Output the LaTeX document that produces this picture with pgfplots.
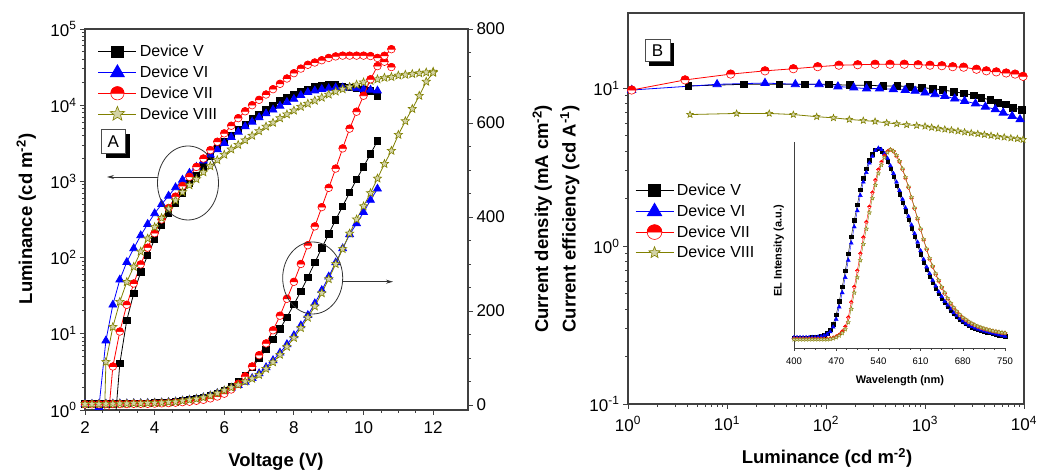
\documentclass[border=0pt]{standalone}
\usepackage{fontspec}
\setmainfont{Liberation Sans}
\usepackage{pgfplots}
\pgfplotsset{compat=1.18}
\usetikzlibrary{arrows.meta}
\definecolor{olv}{RGB}{128,128,0}

\pgfdeclareplotmark{halfcirc}{%
  \pgfpathcircle{\pgfpointorigin}{\pgfplotmarksize}%
  \pgfsetfillcolor{white}%
  \pgfusepathqfillstroke
  \pgfpathmoveto{\pgfqpoint{\pgfplotmarksize}{0pt}}%
  \pgfpatharc{0}{180}{\pgfplotmarksize}%
  \pgfpathclose
  \pgfsetfillcolor{red}%
  \pgfusepathqfillstroke
}
\pgfdeclareplotmark{fstar}{%
  \pgfpathmoveto{\pgfpointpolar{90}{1.15\pgfplotmarksize}}%
  \pgfpathlineto{\pgfpointpolar{126}{0.5\pgfplotmarksize}}%
  \pgfpathlineto{\pgfpointpolar{162}{1.15\pgfplotmarksize}}%
  \pgfpathlineto{\pgfpointpolar{198}{0.5\pgfplotmarksize}}%
  \pgfpathlineto{\pgfpointpolar{234}{1.15\pgfplotmarksize}}%
  \pgfpathlineto{\pgfpointpolar{270}{0.5\pgfplotmarksize}}%
  \pgfpathlineto{\pgfpointpolar{306}{1.15\pgfplotmarksize}}%
  \pgfpathlineto{\pgfpointpolar{342}{0.5\pgfplotmarksize}}%
  \pgfpathlineto{\pgfpointpolar{18}{1.15\pgfplotmarksize}}%
  \pgfpathlineto{\pgfpointpolar{54}{0.5\pgfplotmarksize}}%
  \pgfpathclose
  \pgfusepathqfillstroke
}

\pgfplotsset{
  myaxis/.style={
    scale only axis, anchor=south west,
    tick align=outside,
    major tick length=5pt, minor tick length=3pt,
    axis line style={line width=1.1pt, black!75},
    every tick/.style={line width=0.9pt, black!75},
    tick label style={font=\fontsize{17}{17}\selectfont, text=black},
  },
  myleg/.style={
    legend cell align=left,
    legend style={draw=none, fill=none, inner sep=0pt, outer sep=0pt,
      font=\fontsize{16}{16}\selectfont, row sep=5.5pt, nodes={inner sep=1pt},
      /tikz/every odd column/.append style={column sep=2pt}},
    legend image code/.code={%
      \draw[##1] (0pt,0pt) -- (38pt,0pt);
      \draw[##1, every mark/.append style={scale=1.75}] plot coordinates {(19pt,0pt)};}
  },
  sV/.style={black, line width=0.8pt, mark=square*, mark size=3.2},
  sVI/.style={blue, line width=0.8pt, mark=triangle*, mark size=4.5},
  sVII/.style={red, line width=0.8pt, mark=halfcirc, mark size=3.8, mark options={line width=0.6pt}},
  sVIII/.style={olv, line width=0.8pt, mark=fstar, mark size=3.8, mark options={fill=olv!35, line width=0.6pt}},
}

\begin{document}
\begin{tikzpicture}
\path[use as bounding box] (0pt,0pt) rectangle (1037pt,470pt);

% ---------------- Panel A: luminance ----------------
\begin{axis}[myaxis, myleg,
  at={(85pt,60pt)}, width=383pt, height=381pt,
  xmin=2, xmax=13, ymode=log, ymin=1, ymax=1e5,
  xtick={2,4,6,8,10,12}, xticklabels={2,4,6,8,10,12}, minor x tick num=3,
  ytick={1,10,100,1000,10000,100000},
  yticklabels={10\textsuperscript{0},10\textsuperscript{1},10\textsuperscript{2},10\textsuperscript{3},10\textsuperscript{4},10\textsuperscript{5}},
  xtick pos=left, ytick pos=left,
  xticklabel style={yshift=-3pt},
  legend style={at={(0.034,0.960)}, anchor=north west},
]
\addplot[sV] coordinates {(3.0,4.07)(3.2,15.1)(3.4,33.9)(3.6,64.6)(3.8,107)(4.0,174)(4.2,263)(4.4,380)(4.6,525)(4.8,708)(5.0,933)(5.2,1202)(5.4,1549)(5.6,2138)(5.8,2692)(6.0,3311)(6.2,3981)(6.4,4786)(6.6,5623)(6.8,6607)(7.0,7586)(7.2,8710)(7.4,10000)(7.6,11482)(7.8,12589)(8.0,13804)(8.2,15136)(8.4,16218)(8.6,17378)(8.8,18197)(9.0,18621)(9.2,18621)(9.4,17783)(9.6,16982)(9.8,16596)(10.0,16218)(10.2,15488)(10.4,13183)};
\addlegendentry{Device V}
\addplot[sVI] coordinates {(2.4,1.09)(2.6,8.13)(2.8,24.0)(3.0,51.3)(3.2,87.1)(3.4,132)(3.6,195)(3.8,275)(4.0,380)(4.2,501)(4.4,646)(4.6,832)(4.8,1047)(5.0,1288)(5.2,1549)(5.4,1862)(5.6,2239)(5.8,2630)(6.0,3162)(6.2,3802)(6.4,4467)(6.6,5248)(6.8,6026)(7.0,6918)(7.2,7762)(7.4,8710)(7.6,9772)(7.8,10965)(8.0,12023)(8.2,13490)(8.4,14791)(8.6,15488)(8.8,16218)(9.0,16596)(9.2,16982)(9.4,16982)(9.6,16982)(9.8,16596)(10.0,16218)(10.2,15849)(10.4,15488)};
\addlegendentry{Device VI}
\addplot[sVII] coordinates {(2.8,3.72)(3.0,10.7)(3.2,24.0)(3.4,45.7)(3.6,81.3)(3.8,135)(4.0,209)(4.2,316)(4.4,447)(4.6,631)(4.8,871)(5.0,1148)(5.2,1549)(5.4,1995)(5.6,2570)(5.8,3311)(6.0,4266)(6.2,5370)(6.4,6761)(6.6,8318)(6.8,10000)(7.0,11749)(7.2,13804)(7.4,16218)(7.6,19055)(7.8,22387)(8.0,26303)(8.2,30200)(8.4,33884)(8.6,36308)(8.8,38905)(9.0,41687)(9.2,43652)(9.4,44668)(9.6,44668)(9.8,44668)(10.0,44668)(10.2,44157)(10.4,41687)(10.6,37154)(10.8,31623)};
\addlegendentry{Device VII}
\addplot[sVIII] coordinates {(2.6,4.27)(2.8,12.3)(3.0,26.3)(3.2,47.9)(3.4,75.9)(3.6,120)(3.8,178)(4.0,251)(4.2,331)(4.4,437)(4.6,562)(4.8,724)(5.0,891)(5.2,1072)(5.4,1318)(5.6,1585)(5.8,1905)(6.0,2239)(6.2,2630)(6.4,3020)(6.6,3467)(6.8,3981)(7.0,4571)(7.2,5248)(7.4,5888)(7.6,6761)(7.8,7586)(8.0,8511)(8.2,9550)(8.4,10471)(8.6,11482)(8.8,12589)(9.0,13804)(9.2,15136)(9.4,16218)(9.6,17378)(9.8,18621)(10.0,19953)(10.2,20893)(10.4,21878)(10.6,22909)(10.8,23442)(11.0,24547)(11.2,25119)(11.4,25704)(11.6,26303)(11.8,26915)(12.0,27542)};
\addlegendentry{Device VIII}
% lines from sub-unity luminance (below the axis)
\addplot[black, line width=0.8pt, forget plot] coordinates {(2.8,0.3)(3.0,4.07)};
\addplot[blue, line width=0.8pt, forget plot] coordinates {(2.2,0.001)(2.4,1.09)};
\addplot[red, line width=0.8pt, forget plot] coordinates {(2.6,0.35)(2.8,3.72)};
\addplot[olv, line width=0.8pt, forget plot] coordinates {(2.4,0.001)(2.6,4.27)};
\end{axis}

% ---------------- Panel A: current density ----------------
\begin{axis}[myaxis,
  at={(85pt,60pt)}, width=383pt, height=381pt,
  xmin=2, xmax=13, ymin=-10.6, ymax=800,
  axis x line=none, axis y line*=right, axis line style={-},
  ytick={0,200,400,600,800}, yticklabels={0,200,400,600,800}, minor y tick num=3,
]
\addplot[sV] coordinates {(2.0,2)(2.2,2)(2.4,2)(2.6,2.5)(2.8,2.5)(3.0,3)(3.2,3)(3.4,3.5)(3.6,3.5)(3.8,4)(4.0,4.5)(4.2,5)(4.4,6)(4.6,7)(4.8,9)(5.0,11)(5.2,13)(5.4,16)(5.6,20)(5.8,25)(6.0,31)(6.2,39)(6.4,49)(6.6,63)(6.8,80)(7.0,99)(7.2,118)(7.4,140)(7.6,162)(7.8,187)(8.0,214)(8.2,242)(8.4,272)(8.6,303)(8.8,334)(9.0,364)(9.2,394)(9.4,423)(9.6,452)(9.8,480)(10.0,507)(10.2,534)(10.4,562)};
\addplot[sVI] coordinates {(2.0,2)(2.2,2)(2.4,2)(2.6,2.5)(2.8,2.5)(3.0,3)(3.2,3)(3.4,3.5)(3.6,3.5)(3.8,4)(4.0,4.5)(4.2,5)(4.4,6)(4.6,7)(4.8,9)(5.0,11)(5.2,13)(5.4,16)(5.6,20)(5.8,25)(6.0,30)(6.2,36)(6.4,42)(6.6,49)(6.8,57)(7.0,67)(7.2,80)(7.4,95)(7.6,111)(7.8,129)(8.0,148)(8.2,169)(8.4,191)(8.6,216)(8.8,244)(9.0,273)(9.2,303)(9.4,333)(9.6,363)(9.8,386)(10.0,410)(10.2,436)(10.4,460)};
\addplot[sVII] coordinates {(2.0,1.5)(2.2,1.5)(2.4,1.5)(2.6,2)(2.8,2)(3.0,2)(3.2,2)(3.4,2.5)(3.6,2.5)(3.8,2.5)(4.0,3)(4.2,3.5)(4.4,4)(4.6,5)(4.8,6)(5.0,7)(5.2,9)(5.4,11)(5.6,14)(5.8,18)(6.0,24)(6.2,33)(6.4,45)(6.6,61)(6.8,82)(7.0,106)(7.2,131)(7.4,159)(7.6,190)(7.8,226)(8.0,262)(8.2,300)(8.4,340)(8.6,380)(8.8,421)(9.0,462)(9.2,503)(9.4,546)(9.6,588)(9.8,624)(10.0,658)(10.2,693)(10.4,721)(10.6,743)(10.8,757)};
\addplot[sVIII] coordinates {(2.0,2)(2.2,2)(2.4,2)(2.6,2.5)(2.8,2.5)(3.0,3)(3.2,3)(3.4,3.5)(3.6,3.5)(3.8,4)(4.0,4.5)(4.2,5)(4.4,6)(4.6,7)(4.8,9)(5.0,11)(5.2,13)(5.4,16)(5.6,20)(5.8,25)(6.0,31)(6.2,37)(6.4,43)(6.6,50)(6.8,56)(7.0,64)(7.2,77)(7.4,91)(7.6,107)(7.8,124)(8.0,143)(8.2,164)(8.4,186)(8.6,210)(8.8,238)(9.0,268)(9.2,300)(9.4,332)(9.6,365)(9.8,395)(10.0,423)(10.2,451)(10.4,482)(10.6,513)(10.8,541)(11.0,575)(11.2,604)(11.4,630)(11.6,658)(11.8,688)(12.0,707)};
\end{axis}

% ---------------- Panel B: current efficiency ----------------
\begin{axis}[myaxis, myleg,
  at={(628pt,66pt)}, width=396pt, height=391pt,
  xmode=log, ymode=log, xmin=1, xmax=1e4, ymin=0.1, ymax=30,
  xtick={1,10,100,1000,10000},
  xticklabels={10\textsuperscript{0},10\textsuperscript{1},10\textsuperscript{2},10\textsuperscript{3},10\textsuperscript{4}},
  ytick={0.1,1,10},
  yticklabels={10\textsuperscript{-1},10\textsuperscript{0},10\textsuperscript{1}},
  xtick pos=left, ytick pos=left,
  xticklabel style={yshift=-4pt},
  legend style={at={(0.018,0.566)}, anchor=north west},
  sV/.append style={mark size=3.4},
  sVI/.append style={mark size=4.7},
  sVII/.append style={mark size=4.2},
  sVIII/.append style={mark size=3.0},
]
\addplot[sV] coordinates {(4.07,10.35)(14.8,10.6)(33.9,10.6)(61.7,10.6)(107,10.6)(174,10.45)(263,10.45)(380,10.35)(525,10.35)(708,10.26)(933,10.1)(1202,9.95)(1514,9.75)(1950,9.53)(2455,9.29)(3090,9.02)(3715,8.73)(4571,8.43)(5495,8.11)(6607,7.91)(7762,7.53)(9550,7.28)};
\addlegendentry{Device V}
\addplot[sVI] coordinates {(1.09,9.75)(7.94,10.6)(24.2,10.8)(49.0,10.6)(85.1,10.6)(132,10.26)(191,10.1)(257,9.95)(347,9.95)(479,9.86)(631,9.75)(794,9.62)(1000,9.38)(1259,9.16)(1585,8.93)(1995,8.59)(2512,8.30)(3236,8.0)(4074,7.64)(5129,7.35)(6166,7.0)(7586,6.67)(9120,6.35)};
\addlegendentry{Device VI}
\addplot[sVII] coordinates {(1.09,9.75)(3.77,11.3)(10.9,12.3)(24.2,12.9)(46.8,13.3)(82.4,13.7)(135,14.0)(209,14.1)(313,14.2)(443,14.2)(617,14.2)(851,14.1)(1122,14.0)(1479,13.9)(1905,13.7)(2455,13.6)(3311,13.2)(4169,12.9)(5248,12.7)(6607,12.5)(8128,12.3)(9772,11.9)};
\addlegendentry{Device VII}
\addplot[sVIII] coordinates {(4.23,6.82)(12.5,6.93)(26.7,6.93)(46.8,6.82)(80.5,6.61)(119,6.50)(172,6.35)(238,6.25)(313,6.17)(410,6.04)(518,5.96)(653,5.87)(824,5.81)(1000,5.75)(1167,5.65)(1358,5.57)(1585,5.50)(1849,5.43)(2153,5.36)(2512,5.28)(2931,5.21)(3412,5.15)(3981,5.09)(4645,5.02)(5408,4.95)(6310,4.90)(7362,4.84)(8570,4.79)(9772,4.73)};
\addlegendentry{Device VIII}
\addplot[black, line width=0.8pt, forget plot] coordinates {(9550,7.28)(11500,7.0)};
\addplot[blue, line width=0.8pt, forget plot] coordinates {(9120,6.35)(11000,6.1)};
\addplot[red, line width=0.8pt, forget plot] coordinates {(9772,11.9)(11749,11.6)};
\addplot[olv, line width=0.8pt, forget plot] coordinates {(9772,4.73)(11500,4.65)};
\end{axis}

% ---------------- Inset: EL spectra ----------------
\begin{axis}[myaxis,
  at={(794pt,122pt)}, width=211pt, height=206pt,
  xmin=400, xmax=750, ymin=-0.05, ymax=1.03,
  axis x line*=bottom, axis y line*=left, axis line style={-, line width=0.8pt},
  every tick/.style={line width=0.6pt, black!75},
  major tick length=3pt, minor tick length=2pt,
  xtick={400,470,540,610,680,750}, xticklabels={400,470,540,610,680,750},
  minor x tick num=3, ytick=\empty,
  tick label style={font=\fontsize{9.5}{9.5}\selectfont},
  xticklabel style={yshift=-3pt},
  sV/.append style={mark size=1.7, line width=0.4pt},
  sVI/.append style={mark size=2.3, line width=0.4pt},
  sVII/.append style={mark size=1.9, line width=0.4pt, mark options={line width=0.3pt}},
  sVIII/.append style={mark size=2.0, line width=0.4pt, mark options={fill=olv!35, line width=0.3pt}},
]
\addplot[sV] coordinates {(400,0.005)(405,0.005)(410,0.005)(415,0.005)(420,0.005)(425,0.005)(430,0.006)(435,0.007)(440,0.009)(445,0.013)(450,0.018)(455,0.027)(460,0.045)(465,0.075)(470,0.125)(475,0.195)(480,0.27)(485,0.355)(490,0.445)(495,0.535)(500,0.62)(505,0.70)(510,0.78)(515,0.84)(520,0.89)(525,0.935)(530,0.967)(535,0.99)(540,0.995)(545,0.982)(550,0.96)(555,0.93)(560,0.89)(565,0.848)(570,0.802)(575,0.757)(580,0.712)(585,0.667)(590,0.622)(595,0.577)(600,0.532)(605,0.487)(610,0.442)(615,0.399)(620,0.361)(625,0.326)(630,0.293)(635,0.263)(640,0.235)(645,0.21)(650,0.187)(655,0.167)(660,0.147)(665,0.129)(670,0.114)(675,0.1)(680,0.087)(685,0.076)(690,0.067)(695,0.059)(700,0.053)(705,0.047)(710,0.042)(715,0.037)(720,0.033)(725,0.029)(730,0.025)(735,0.021)(740,0.017)(745,0.014)(750,0.011)};
\addplot[sVI] coordinates {(400,0.005)(405,0.005)(410,0.005)(415,0.005)(420,0.005)(425,0.005)(430,0.006)(435,0.006)(440,0.008)(445,0.010)(450,0.015)(455,0.022)(460,0.035)(465,0.06)(470,0.10)(475,0.165)(480,0.24)(485,0.32)(490,0.41)(495,0.50)(500,0.585)(505,0.67)(510,0.75)(515,0.82)(520,0.87)(525,0.92)(530,0.955)(535,0.985)(540,0.998)(545,0.99)(550,0.97)(555,0.945)(560,0.905)(565,0.865)(570,0.82)(575,0.775)(580,0.73)(585,0.685)(590,0.64)(595,0.595)(600,0.55)(605,0.505)(610,0.46)(615,0.415)(620,0.375)(625,0.34)(630,0.305)(635,0.275)(640,0.245)(645,0.22)(650,0.195)(655,0.175)(660,0.155)(665,0.135)(670,0.12)(675,0.105)(680,0.092)(685,0.08)(690,0.07)(695,0.062)(700,0.055)(705,0.049)(710,0.044)(715,0.039)(720,0.035)(725,0.031)(730,0.027)(735,0.023)(740,0.019)(745,0.015)(750,0.012)};
\addplot[sVII] coordinates {(400,-0.002)(405,-0.002)(410,-0.002)(415,-0.002)(420,-0.002)(425,-0.002)(430,-0.002)(435,-0.002)(440,-0.002)(445,-0.002)(450,-0.002)(455,-0.002)(460,0.0)(465,0.004)(470,0.01)(475,0.02)(480,0.036)(485,0.062)(490,0.11)(495,0.19)(500,0.27)(505,0.355)(510,0.445)(515,0.53)(520,0.61)(525,0.69)(530,0.765)(535,0.83)(540,0.885)(545,0.925)(550,0.958)(555,0.98)(560,0.99)(565,0.98)(570,0.955)(575,0.925)(580,0.885)(585,0.84)(590,0.79)(595,0.735)(600,0.68)(605,0.625)(610,0.57)(615,0.515)(620,0.465)(625,0.415)(630,0.375)(635,0.335)(640,0.30)(645,0.265)(650,0.235)(655,0.205)(660,0.18)(665,0.158)(670,0.138)(675,0.121)(680,0.107)(685,0.096)(690,0.085)(695,0.076)(700,0.068)(705,0.061)(710,0.055)(715,0.05)(720,0.046)(725,0.042)(730,0.038)(735,0.035)(740,0.032)(745,0.029)(750,0.027)};
\addplot[sVIII] coordinates {(400,-0.005)(405,-0.005)(410,-0.005)(415,-0.005)(420,-0.005)(425,-0.005)(430,-0.005)(435,-0.005)(440,-0.005)(445,-0.005)(450,-0.005)(455,-0.005)(460,-0.003)(465,0.0)(470,0.006)(475,0.015)(480,0.028)(485,0.048)(490,0.085)(495,0.155)(500,0.24)(505,0.32)(510,0.41)(515,0.495)(520,0.575)(525,0.66)(530,0.735)(535,0.805)(540,0.865)(545,0.91)(550,0.948)(555,0.975)(560,0.99)(565,0.982)(570,0.96)(575,0.93)(580,0.89)(585,0.845)(590,0.795)(595,0.74)(600,0.685)(605,0.63)(610,0.575)(615,0.52)(620,0.47)(625,0.42)(630,0.38)(635,0.34)(640,0.305)(645,0.27)(650,0.24)(655,0.21)(660,0.185)(665,0.162)(670,0.142)(675,0.125)(680,0.11)(685,0.099)(690,0.088)(695,0.079)(700,0.071)(705,0.064)(710,0.058)(715,0.053)(720,0.048)(725,0.044)(730,0.04)(735,0.037)(740,0.034)(745,0.031)(750,0.029)};
\end{axis}

% ---------------- labels and annotations ----------------
\node[rotate=90, anchor=base, font=\bfseries\fontsize{18.5}{18.5}\selectfont] at (32pt,251pt) {Luminance (cd m\textsuperscript{-2})};
\node[anchor=base, font=\bfseries\fontsize{18.5}{18.5}\selectfont] at (276pt,3pt) {Voltage (V)};
\node[anchor=base, font=\bfseries\fontsize{18.5}{18.5}\selectfont] at (827pt,6.7pt) {Luminance (cd m\textsuperscript{-2})};
\node[rotate=90, anchor=base, font=\bfseries\fontsize{18.5}{18.5}\selectfont] at (548pt,251pt) {Current density (mA cm\textsuperscript{-2})};
\node[rotate=90, anchor=base, font=\bfseries\fontsize{18.5}{18.5}\selectfont] at (575.5pt,251pt) {Current efficiency (cd A\textsuperscript{-1})};
\node[anchor=base, font=\bfseries\fontsize{11}{11}\selectfont] at (900pt,86pt) {Wavelength (nm)};
\node[rotate=90, anchor=base, font=\bfseries\fontsize{11}{11}\selectfont] at (781.5pt,219pt) {EL Intensity (a.u.)};

% panel tags with shadow
\fill[black] (106.2pt,312.2pt) rectangle (129.5pt,336.2pt);
\draw[draw=black!70, fill=white, line width=0.8pt] (101.7pt,316.7pt) rectangle (125pt,340.7pt);
\node[font=\fontsize{17}{17}\selectfont] at (113.4pt,328.7pt) {A};
\fill[black] (649pt,404.3pt) rectangle (674pt,426.7pt);
\draw[draw=black!70, fill=white, line width=0.8pt] (645pt,408.3pt) rectangle (670pt,430.7pt);
\node[font=\fontsize{17}{17}\selectfont] at (657.5pt,419.5pt) {B};

% ellipses and arrows
\draw[line width=0.8pt, black!80] (188pt,287pt) ellipse (30.5pt and 37pt);
\draw[line width=0.8pt, black!80, -{Stealth[length=7pt,width=4pt]}] (157.5pt,293pt) -- (107pt,293pt);
\draw[line width=0.8pt, black!80] (312.7pt,192pt) ellipse (30pt and 36pt);
\draw[line width=0.8pt, black!80, -{Stealth[length=7pt,width=4pt]}] (342.7pt,188.3pt) -- (393pt,188.3pt);
\end{tikzpicture}
\end{document}
